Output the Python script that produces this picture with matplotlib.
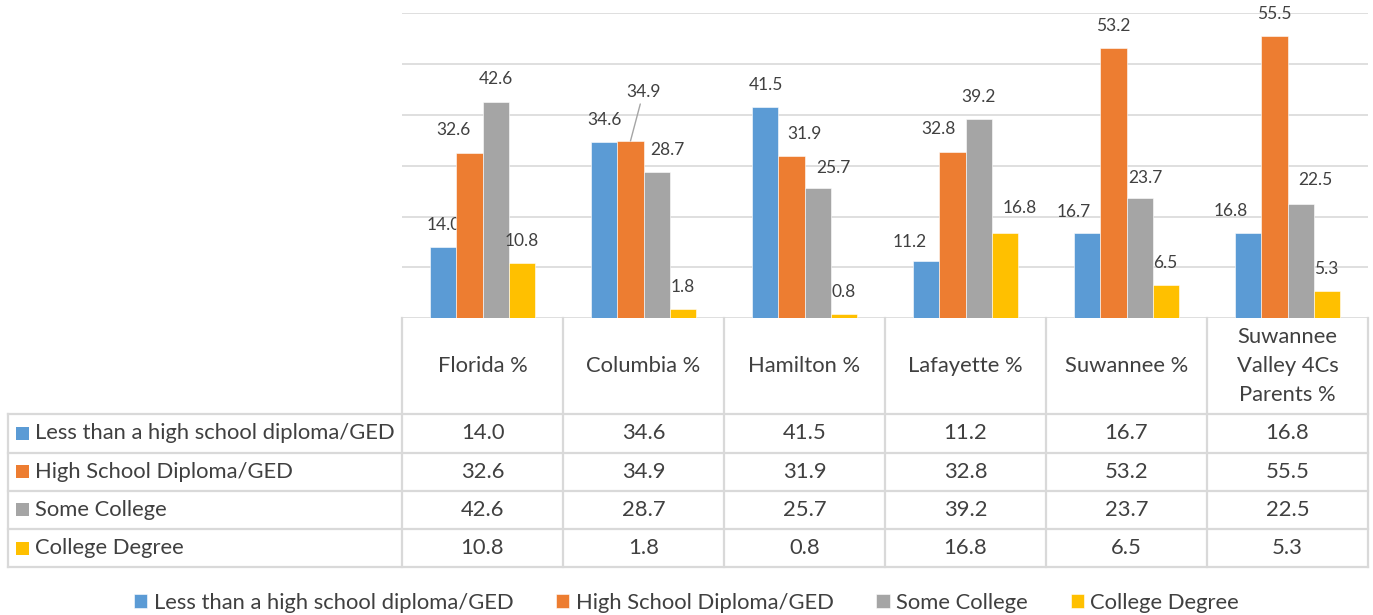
import matplotlib
matplotlib.use('Agg')
import matplotlib.pyplot as plt
import matplotlib.transforms as mtransforms
from matplotlib.lines import Line2D
from matplotlib.patches import Rectangle
import numpy as np

plt.rcParams['font.family'] = 'Lato'

# data
regions = ['Florida %', 'Columbia %', 'Hamilton %', 'Lafayette %', 'Suwannee %',
           'Suwannee\nValley 4Cs\nParents %']
levels = ['Less than a high school diploma/GED', 'High School Diploma/GED',
          'Some College', 'College Degree']
less_than_hs = [14.0, 34.6, 41.5, 11.2, 16.7, 16.8]
hs_diploma = [32.6, 34.9, 31.9, 32.8, 53.2, 55.5]
some_college = [42.6, 28.7, 25.7, 39.2, 23.7, 22.5]
college_degree = [10.8, 1.8, 0.8, 16.8, 6.5, 5.3]
series = [less_than_hs, hs_diploma, some_college, college_degree]

colors = ['#5B9BD5', '#ED7D31', '#A5A5A5', '#FFC000']
txt_col = '#404040'
line_col = '#D9D9D9'

# hand nudges of the data labels (pixels), as in the original sheet
nudge_x = [[0, 0, 0, -17, -14, -18],
           [-16, 13, 13, -14, 0, 0],
           [0, 11, 16, 0, 6, 15],
           [0, 0, 0, 15, 0, 0]]
nudge_y = [[22, 22, 22, 19, 21, 22],
           [23, 49, 22, 23, 22, 22],
           [23, 22, 20, 22, 20, 24],
           [22, 22, 22, 25, 22, 22]]

W, H = 1373, 615
fig = plt.figure(figsize=(W / 100, H / 100), dpi=100)

def fx(px):
    return px / W

def fy(py):
    return 1 - py / H

ax_l, ax_r, ax_t, ax_b = 402, 1368, 13.3, 318.3
ax = fig.add_axes([fx(ax_l), fy(ax_b), fx(ax_r - ax_l), (ax_b - ax_t) / H])

x = np.arange(len(regions))
bw = 0.1615
bars = []
for k, vals in enumerate(series):
    b = ax.bar(x + (k - 1.5) * bw, vals, bw, color=colors[k], label=levels[k],
               edgecolor='white', linewidth=0.4, zorder=3)
    bars.append(b)
    for i, v in enumerate(vals):
        xpos = x[i] + (k - 1.5) * bw
        if nudge_y[k][i] > 30:
            ax.annotate(f'{v:.1f}', xy=(xpos, v), xytext=(nudge_x[k][i], nudge_y[k][i]),
                        textcoords='offset pixels', ha='center', va='center',
                        fontsize=12.5, color=txt_col,
                        arrowprops=dict(arrowstyle='-', color='#A5A5A5', lw=1,
                                        shrinkA=1, shrinkB=0))
        else:
            ax.annotate(f'{v:.1f}', xy=(xpos, v), xytext=(nudge_x[k][i], nudge_y[k][i]),
                        textcoords='offset pixels', ha='center', va='center',
                        fontsize=12.5, color=txt_col)

ax.set_xlim(-0.5, len(regions) - 0.5)
ax.set_ylim(0, 60)
ax.set_yticks(np.arange(0, 61, 10))
ax.yaxis.grid(True, color=line_col, lw=1.2)
ax.set_axisbelow(True)
ax.tick_params(left=False, bottom=False, labelleft=False, labelbottom=False)
for s in ax.spines.values():
    s.set_visible(False)

# data table below the plot
blend = mtransforms.blended_transform_factory(ax.transData, fig.transFigure)
row_y = [414, 452.7, 490.7, 529, 567.3]
tbl_left = 8
lw = 1.6
fs = 15.8

# horizontal lines
for ry in row_y:
    fig.add_artist(Line2D([fx(tbl_left), fx(ax_r)], [fy(ry), fy(ry)],
                          color=line_col, lw=lw, transform=fig.transFigure))
# vertical lines at category boundaries
for b in np.arange(len(regions) + 1) - 0.5:
    fig.add_artist(Line2D([b, b], [fy(ax_b), fy(row_y[-1])], color=line_col, lw=lw,
                          transform=blend))
fig.add_artist(Line2D([fx(tbl_left), fx(tbl_left)], [fy(row_y[0]), fy(row_y[-1])],
                      color=line_col, lw=lw, transform=fig.transFigure))

# header row
for i, name in enumerate(regions):
    fig.text(x[i], fy((ax_b + row_y[0]) / 2), name, transform=blend, ha='center',
             va='center', fontsize=fs, color=txt_col, linespacing=1.55)

# value rows
for k, vals in enumerate(series):
    cy = (row_y[k] + row_y[k + 1]) / 2
    fig.add_artist(Rectangle((fx(16), fy(cy + 6.5)), fx(13), 13 / H,
                             facecolor=colors[k], edgecolor='none',
                             transform=fig.transFigure))
    fig.text(fx(35), fy(cy), levels[k], ha='left', va='center', fontsize=fs,
             color=txt_col)
    for i, v in enumerate(vals):
        fig.text(x[i], fy(cy), f'{v:.1f}', transform=blend, ha='center', va='center',
                 fontsize=fs, color=txt_col)

# legend
leg = fig.legend(handles=bars, labels=levels, loc='center', bbox_to_anchor=(0.5, fy(603)),
                 ncol=4, frameon=False, handlelength=0.6, handleheight=0.6,
                 handletextpad=0.3, columnspacing=1.95, prop={'size': fs})
for t in leg.get_texts():
    t.set_color(txt_col)

fig.savefig('out.png', dpi=100)
